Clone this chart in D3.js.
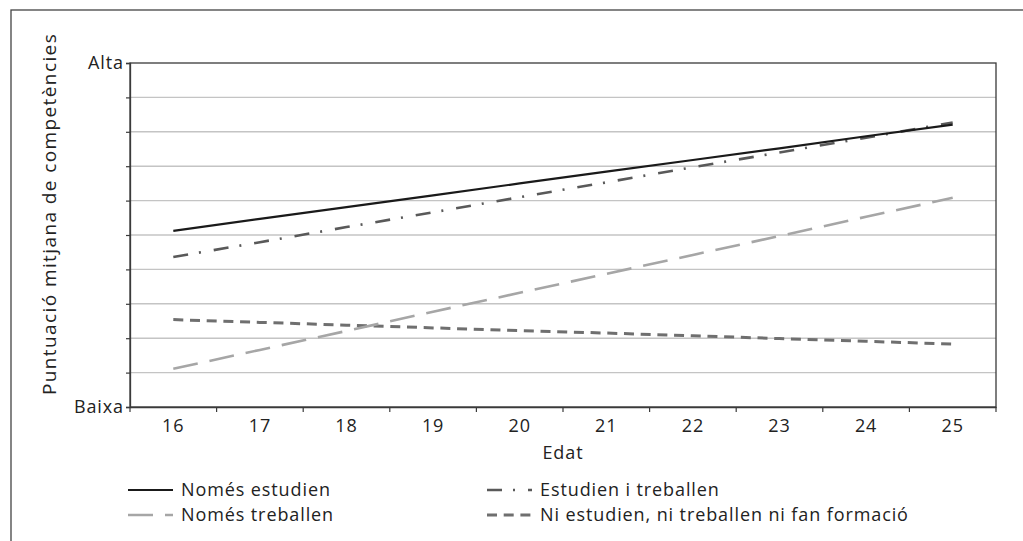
<!DOCTYPE html>
<html>
<head>
<meta charset="utf-8">
<script src="https://cdn.jsdelivr.net/npm/d3@7"></script>
<style>
  html, body { margin: 0; padding: 0; background: #fff; }
  svg { display: block; font-family: "Open Sans", "Noto Sans", sans-serif; }
</style>
</head>
<body>
<svg id="chart" width="1023" height="541"></svg>
<script>
// ---- data ----
const ages = [16, 17, 18, 19, 20, 21, 22, 23, 24, 25];
const nomesEstudien = [5.12, 5.47, 5.81, 6.15, 6.50, 6.84, 7.18, 7.52, 7.87, 8.21];
const estudienTreballen = [4.36, 4.79, 5.23, 5.66, 6.10, 6.53, 6.97, 7.40, 7.83, 8.27];
const nomesTreballen = [1.11, 1.66, 2.21, 2.77, 3.32, 3.87, 4.42, 4.97, 5.53, 6.08];
const niEstudien = [2.54, 2.46, 2.38, 2.30, 2.22, 2.15, 2.07, 1.99, 1.91, 1.83];
const seriesNames = ["Només estudien", "Estudien i treballen", "Només treballen", "Ni estudien, ni treballen ni fan formació"];
const yTickValues = [0, 1, 2, 3, 4, 5, 6, 7, 8, 9, 10];
const yTickLabels = {0: "Baixa", 10: "Alta"};
const xTitle = "Edat";
const yTitle = "Puntuació mitjana de competències";

(function () {
// ---- styles ----
const styles = [
  {color: "#1a1a1a", width: 2.2, dash: null},
  {color: "#595959", width: 2.6, dash: "15,11,2,13"},
  {color: "#a6a6a6", width: 2.6, dash: "25,12"},
  {color: "#6f6f6f", width: 3, dash: "10,6.7"}
];
const seriesData = [nomesEstudien, estudienTreballen, nomesTreballen, niEstudien];
const FS = 18, LS = 0.9;

const svg = d3.select("#chart");
const pL = 130, pR = 996, pT = 63, pB = 407;

// outer frame
svg.append("rect").attr("x", 11).attr("y", 10).attr("width", 1030).attr("height", 560)
  .attr("fill", "none").attr("stroke", "#444").attr("stroke-width", 1.3);

const x = d3.scaleBand().domain(ages).range([pL, pR]).padding(0);
const y = d3.scaleLinear().domain([0, 10]).range([pB, pT]);

// gridlines
svg.append("g").selectAll("line").data(yTickValues.filter(v => v > 0 && v < 10)).join("line")
  .attr("x1", pL).attr("x2", pR).attr("y1", d => y(d)).attr("y2", d => y(d))
  .attr("stroke", "#c4c4c4").attr("stroke-width", 1.4);

// plot border
svg.append("rect").attr("x", pL).attr("y", pT).attr("width", pR - pL).attr("height", pB - pT)
  .attr("fill", "none").attr("stroke", "#3a3a3a").attr("stroke-width", 1.3);

// y axis
const yAxis = d3.axisLeft(y).tickValues(yTickValues).tickSize(4).tickPadding(2)
  .tickFormat(d => yTickLabels[d] || "");
const gy = svg.append("g").attr("transform", `translate(${pL},0)`).call(yAxis);
gy.select(".domain").attr("stroke", "#3a3a3a").attr("stroke-width", 1.3);
gy.selectAll(".tick line").attr("stroke", "#3a3a3a").attr("stroke-width", 1.2);
gy.selectAll(".tick text").attr("font-size", FS).attr("fill", "#222")
  .attr("letter-spacing", LS).attr("font-family", "'Open Sans', sans-serif");

// x axis labels
const xAxis = d3.axisBottom(x).tickSize(0).tickPadding(12);
const gx = svg.append("g").attr("transform", `translate(0,${pB})`).call(xAxis);
gx.select(".domain").attr("stroke", "#3a3a3a").attr("stroke-width", 1.3);
gx.selectAll(".tick text").attr("font-size", FS).attr("fill", "#222")
  .attr("letter-spacing", LS).attr("font-family", "'Open Sans', sans-serif");
// x boundary ticks
const bounds = ages.map(a => x(a)).concat([x.range()[1]]);
svg.append("g").selectAll("line").data(bounds).join("line")
  .attr("x1", d => d).attr("x2", d => d).attr("y1", pB).attr("y2", pB + 5)
  .attr("stroke", "#3a3a3a").attr("stroke-width", 1.2);

// titles
svg.append("text").attr("x", 563).attr("y", 459).attr("text-anchor", "middle")
  .attr("font-size", FS).attr("letter-spacing", LS).attr("fill", "#222").text(xTitle);
svg.append("text").attr("transform", "translate(56,214) rotate(-90)").attr("text-anchor", "middle")
  .attr("font-size", 19).attr("letter-spacing", 1.4).attr("fill", "#222").text(yTitle);

// lines
const line = d3.line().x((d, i) => x(ages[i]) + x.bandwidth() / 2).y(d => y(d));
const order = [3, 2, 1, 0];
order.forEach(k => {
  svg.append("path").datum(seriesData[k]).attr("d", line)
    .attr("fill", "none").attr("stroke", styles[k].color).attr("stroke-width", styles[k].width)
    .attr("stroke-dasharray", styles[k].dash);
});

// legend
const legendPos = [
  {lx: 128, tx: 181, y: 490},
  {lx: 487, tx: 540, y: 490},
  {lx: 128, tx: 181, y: 515},
  {lx: 487, tx: 540, y: 515}
];
seriesNames.forEach((name, k) => {
  const p = legendPos[k];
  svg.append("line").attr("x1", p.lx).attr("x2", p.lx + 45).attr("y1", p.y).attr("y2", p.y)
    .attr("stroke", styles[k].color).attr("stroke-width", styles[k].width)
    .attr("stroke-dasharray", styles[k].dash);
  svg.append("text").attr("x", p.tx).attr("y", p.y).attr("dy", "0.35em")
    .attr("font-size", FS).attr("letter-spacing", LS).attr("fill", "#222").text(name);
});
})();
</script>
</body>
</html>
